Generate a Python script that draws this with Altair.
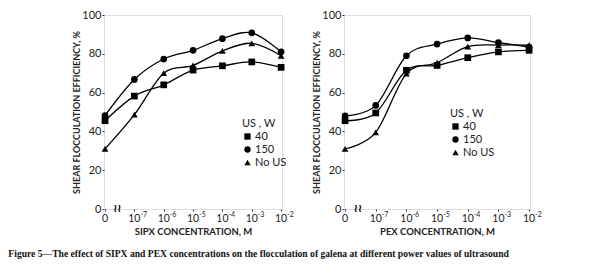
import altair as alt
import pandas as pd

x_base = ["0", "10", "10", "10", "10", "10", "10"]
x_exp = ["", "-7", "-6", "-5", "-4", "-3", "-2"]
series = ["40", "150", "No US"]

sipx_40 = [45.5, 58.2, 64.0, 71.6, 73.8, 75.8, 73.0]
sipx_150 = [48.2, 66.8, 77.3, 81.8, 87.8, 90.8, 81.0]
sipx_nous = [31.0, 48.6, 70.0, 74.0, 81.5, 85.4, 79.0]

pex_40 = [45.5, 49.5, 71.5, 74.0, 78.0, 81.0, 81.8]
pex_150 = [48.0, 53.4, 79.0, 85.0, 88.2, 85.8, 83.5]
pex_nous = [31.0, 39.5, 69.8, 75.4, 83.7, 84.5, 84.5]


def make_df(v40, v150, vno):
    rows = []
    for name, vals in zip(series, [v40, v150, vno]):
        for i, v in enumerate(vals):
            rows.append({"i": i, "v": v, "s": name})
    return pd.DataFrame(rows)


lab_df = pd.DataFrame({"i": list(range(7)), "v": [0] * 7, "b": x_base, "e": x_exp})

FONT = "Lato"


def panel(df, xtitle, w, lx, ly):
    xenc = alt.X(
        "i:Q",
        scale=alt.Scale(domain=[-0.035, 6.03], nice=False, zero=False),
        axis=alt.Axis(
            values=list(range(7)),
            labels=False,
            title=xtitle,
            grid=False,
            domain=False,
            tickSize=2,
            tickColor="#333",
            titleFont=FONT,
            titleFontSize=9.5,
            titleFontWeight="bold",
            titleColor="#222",
            titlePadding=15,
        ),
    )
    yenc = alt.Y(
        "v:Q",
        scale=alt.Scale(domain=[0, 100], nice=False),
        axis=alt.Axis(
            values=[0, 20, 40, 60, 80, 100],
            labelOverlap=False,
            labelFlush=False,
            labelBound=False,
            title="SHEAR FLOCCULATION EFFICIENCY, %",
            grid=False,
            domain=False,
            tickSize=2,
            tickColor="#333",
            labelFontSize=11,
            labelColor="#222",
            labelFont=FONT,
            labelPadding=1,
            titleFont=FONT,
            titleFontSize=9,
            titleFontWeight="bold",
            titleColor="#222",
            titlePadding=0,
        ),
    )
    base = alt.Chart(df)
    lines = base.mark_line(
        interpolate="cardinal", color="black", strokeWidth=1.3
    ).encode(x=xenc, y=yenc, detail="s:N")
    pts = base.mark_point(filled=True, color="black", size=45, opacity=1).encode(
        x=xenc,
        y=yenc,
        shape=alt.Shape(
            "s:N",
            scale=alt.Scale(domain=series, range=["square", "circle", "triangle-up"]),
            legend=alt.Legend(
                title="US , W",
                orient="none",
                legendX=lx,
                legendY=ly,
                titleFont=FONT,
                titleFontSize=11,
                titleFontWeight="normal",
                titleColor="#222",
                titlePadding=2,
                labelFont=FONT,
                labelFontSize=11,
                labelColor="#222",
                symbolFillColor="black",
                symbolStrokeColor="black",
                symbolSize=40,
                rowPadding=0,
                labelOffset=2,
            ),
        ),
    )
    brk = alt.Chart(pd.DataFrame({"i": [0.42], "v": [0], "t": ["≀≀"]})).mark_text(
        font="DejaVu Sans", fontSize=11, fontWeight="bold", color="black", baseline="middle"
    ).encode(x=xenc, y=yenc, text="t:N")
    lab = alt.Chart(lab_df)
    base_txt = lab.mark_text(
        font=FONT, fontSize=10.5, color="#222", baseline="top", align="center", dy=5
    ).encode(x=xenc, y=yenc, text="b:N")
    exp_txt = lab.mark_text(
        font=FONT, fontSize=7, color="#222", baseline="top", align="left", dx=6, dy=2
    ).encode(x=xenc, y=yenc, text="e:N")
    return alt.layer(lines, pts, brk, base_txt, exp_txt).properties(width=w, height=194)


left = panel(make_df(sipx_40, sipx_150, sipx_nous), "SIPX CONCENTRATION, M", 178, 138, 103)
right = panel(make_df(pex_40, pex_150, pex_nous), "PEX CONCENTRATION, M", 186, 106, 93)

chart = (
    alt.hconcat(left, right, spacing=17)
    .resolve_legend(shape="independent")
    .resolve_scale(shape="independent")
    .properties(
        padding={"left": 0, "top": 0, "right": 0, "bottom": 0},
        title=alt.TitleParams(
            "Figure 5—The effect of SIPX and PEX concentrations on the flocculation of galena at different power values of ultrasound",
            orient="bottom",
            anchor="start",
            dx=-64,
            offset=12,
            font="Liberation Serif",
            fontSize=9.6,
            fontWeight="bold",
            color="#111",
        ),
    )
    .configure_view(stroke="black", strokeWidth=1)
    .configure(background="white")
)

chart.save("out.html", embed_options={"renderer": "svg", "actions": False})
